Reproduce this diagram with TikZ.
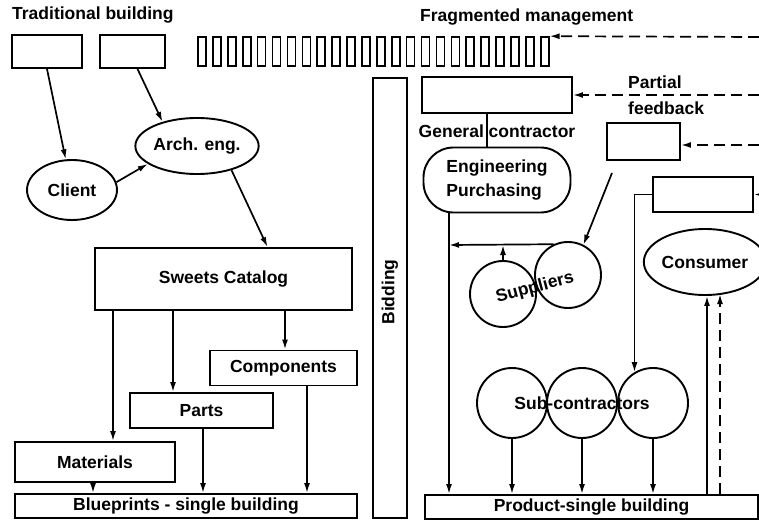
\documentclass[tikz,border=0pt]{standalone}
\usepackage{fontspec}
\setmainfont{Liberation Sans}
\usetikzlibrary{shapes.geometric,arrows.meta}
\begin{document}
\begin{tikzpicture}[x=1pt,y=-1pt,
  every node/.style={font=\bfseries\fontsize{17.5}{19}\selectfont},
  bx/.style={draw,line width=1.9pt,inner sep=0pt,rectangle},
  el/.style={draw,line width=1.9pt,ellipse,inner sep=0pt},
  cir/.style={draw,line width=1.9pt,circle,inner sep=0pt,minimum size=#1},
  arr/.style={line width=1.7pt,-{Latex[length=10pt,width=6pt]}},
  plainln/.style={line width=1.7pt},
  dashln/.style={dash pattern=on 11pt off 6pt},
]
\useasboundingbox (0,0) rectangle (759,521);

% titles
\node[anchor=west,inner sep=0pt] (t1) at (12,15) {Traditional building};
\node[anchor=west,inner sep=0pt] (t2) at (420,17) {Fragmented management};

% left side
\node[bx,minimum width=70pt,minimum height=33pt] (A) at (47,51.5) {};
\node[bx,minimum width=65pt,minimum height=33pt] (B) at (132.5,51.5) {};
\node[el,minimum width=90pt,minimum height=60pt] (client) at (72,190) {Client};
\node[el,minimum width=112pt,minimum height=56pt] (arch) at (197,146) {Arch. eng.};
\node[bx,minimum width=257pt,minimum height=62pt] (sweets) at (223.5,279) {Sweets Catalog};
\node[bx,minimum width=147pt,minimum height=35pt] (comp) at (283.5,368) {Components};
\node[bx,minimum width=143pt,minimum height=35pt] (parts) at (201.5,410.5) {Parts};
\node[bx,minimum width=160pt,minimum height=40pt] (mat) at (95,462) {Materials};
\node[bx,minimum width=342pt,minimum height=24pt] (blue) at (186,506) {Blueprints - single building};

\draw[arr] (A.south) -- (client);
\draw[arr] ([xshift=5pt]B.south) -- (arch.145);
\draw[arr] (client.10) -- (arch.200);
\draw[arr] (arch.-35) -- ([xshift=44pt]sweets.north);
\draw[arr] (sweets.south -| 113,0) -- (mat.north -| 113,0);
\draw[arr] (sweets.south -| 173,0) -- (parts.north -| 173,0);
\draw[arr] (sweets.south -| 285,0) -- (comp.north -| 285,0);
\draw[arr] (mat.south -| 93,0) -- (blue.north -| 93,0);
\draw[arr] (parts.south -| 203,0) -- (blue.north -| 203,0);
\draw[arr] (comp.south -| 307,0) -- (blue.north -| 307,0);

% row of small rectangles
\foreach \i in {1,...,24}
  \node[bx,line width=1.6pt,minimum width=8pt,minimum height=29pt] (r\i) at ({202+(\i-1)*14.9},51.5) {};

% bidding
\node[bx,minimum width=34pt,minimum height=440pt] (bid) at (390,298) {};
\node[rotate=90] (bidt) at (390,292) {Bidding};

% right side
\node[bx,minimum width=150pt,minimum height=36pt] (gc) at (497,95) {};
\node (gct) at (497,131) {General contractor};
\node[anchor=west,inner sep=0pt] (pf1) at (628,82) {Partial};
\node[anchor=west,inner sep=0pt] (pf2) at (628,108) {feedback};
\node[bx,minimum width=73pt,minimum height=37pt] (fb) at (643.5,141.5) {};
\node[bx,minimum width=100pt,minimum height=35pt] (box3) at (703,194.5) {};
\node[draw,line width=1.9pt,rounded corners=30pt,minimum width=147pt,minimum height=65pt,align=left,inner sep=0pt] (ep) at (497,180) {Engineering\\[5pt]Purchasing};

\node[cir=66pt] (s1) at (503,294) {};
\node[cir=66pt] (s2) at (568,275) {};
\node[rotate=15] (supt) at (535,288) {Suppliers};

\node[el,minimum width=106pt,minimum height=66pt] (cons) at (705,262) {Consumer};

\node[cir=70pt] (c1) at (512,403) {};
\node[cir=70pt] (c2) at (582,403) {};
\node[cir=70pt] (c3) at (653,403) {};
\node (subt) at (582,403) {Sub-contractors};

\node[bx,minimum width=333pt,minimum height=24pt] (prod) at (591.5,507) {Product-single building};

% coordinates at the right edge
\coordinate (e1) at (759,37);
\coordinate (e2) at (759,95);
\coordinate (e3) at (759,145);
\coordinate (e4) at (759,194.5);
\coordinate (j) at (449,245);
\coordinate (sfrom) at (612,173);

% dashed feedback arrows
\draw[arr,dashln] (e1) -- (r24.north east);
\draw[arr,dashln] (e2) -- (gc.east);
\draw[arr,dashln] (e3) -- (fb.east |- e3);
\draw[arr] (e4) -- (box3.east);

\draw[plainln] (gc.south -| 487,0) -- (ep.north -| 487,0);
\draw[arr] (ep.south -| 449,0) -- (prod.north -| 449,0);
\draw[arr] (s2.115) -- (j);
\draw[arr] (s1.north) -- (s1.north |- j);
\draw[arr] (sfrom) -- (s2.63);
\draw[arr] (box3.west) -| (c3.121);
\draw[arr] (c1.south) -- (c1.south |- prod.north);
\draw[arr] (c2.south) -- (c2.south |- prod.north);
\draw[arr] (c3.south) -- (c3.south |- prod.north);
\draw[arr] (prod.north -| 707,0) -- (cons.south -| 707,0);
\draw[arr,dashln] (prod.north -| 720,0) -- (720,294);
\end{tikzpicture}
\end{document}
